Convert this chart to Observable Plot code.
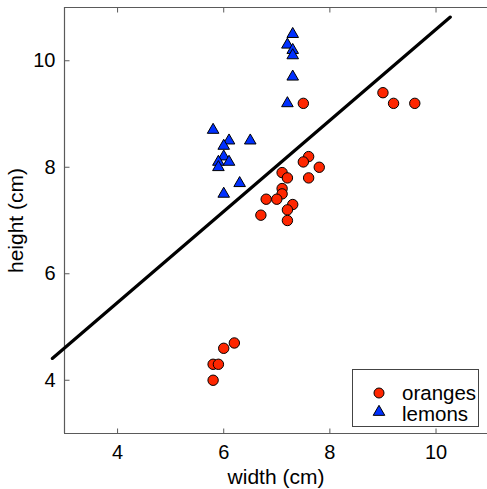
<!DOCTYPE html>
<html>
<head>
<meta charset="utf-8">
<script src="https://cdn.jsdelivr.net/npm/d3@7"></script>
<script src="https://cdn.jsdelivr.net/npm/@observablehq/plot@0.6"></script>
<style>
  html, body { margin: 0; padding: 0; background: #fff; overflow: hidden; }
  #wrap { position: relative; width: 487px; height: 489px; }
  #legend { position: absolute; left: 0; top: 0; pointer-events: none; }
</style>
</head>
<body>
<div id="wrap"></div>
<script>
// ---- data ----
const orangeWidth  = [9.0, 9.2, 9.6, 7.5, 7.6, 7.5, 7.8, 7.1, 7.2, 7.6, 7.1, 7.1, 6.8, 7.0, 7.3, 7.2, 6.7, 7.2, 6.2, 6.0, 5.8, 5.9, 5.8];
const orangeHeight = [9.4, 9.2, 9.2, 9.2, 8.2, 8.1, 8.0, 7.9, 7.8, 7.8, 7.6, 7.5, 7.4, 7.4, 7.3, 7.2, 7.1, 7.0, 4.7, 4.6, 4.3, 4.3, 4.0];
const lemonWidth   = [7.3, 7.2, 7.3, 7.3, 7.3, 7.2, 5.8, 6.1, 6.5, 6.0, 6.0, 5.9, 6.1, 5.9, 6.3, 6.0];
const lemonHeight  = [10.5, 10.3, 10.2, 10.1, 9.7, 9.2, 8.7, 8.5, 8.5, 8.4, 8.2, 8.1, 8.1, 8.0, 7.7, 7.5];
const boundaryWidth  = [2.77, 10.27];
const boundaryHeight = [4.41, 10.82];
const xTicks = [4, 6, 8, 10];
const yTicks = [4, 6, 8, 10];
const xDomain = [3, 10.97];
const yDomain = [3, 11];
const legendLabels = ["oranges", "lemons"];

const oranges = orangeWidth.map((w, i) => ({w, h: orangeHeight[i]}));
const lemons = lemonWidth.map((w, i) => ({w, h: lemonHeight[i]}));
const boundary = boundaryWidth.map((w, i) => ({w, h: boundaryHeight[i]}));

const FONT = "'Liberation Sans', Arial, sans-serif";
const ORANGE = "#ff2600";
const BLUE = "#0030ff";
const AXIS = "#5a5a5a";
const TL = 5; // inward tick length in px
const tickUp = {draw(ctx) { ctx.moveTo(0, 0); ctx.lineTo(0, -TL); }};
const tickDown = {draw(ctx) { ctx.moveTo(0, 0); ctx.lineTo(0, TL); }};
const tickRight = {draw(ctx) { ctx.moveTo(0, 0); ctx.lineTo(TL, 0); }};

const chart = Plot.plot({
  width: 487,
  height: 489,
  marginLeft: 64,
  marginRight: 0,
  marginTop: 7,
  marginBottom: 56,
  style: {fontFamily: FONT, fontSize: "20px", background: "#fff", color: "#000", overflow: "visible"},
  x: {domain: xDomain},
  y: {domain: yDomain},
  marks: [
    Plot.ruleX([xDomain[0]], {stroke: AXIS, strokeWidth: 1.2}),
    Plot.ruleY([yDomain[0]], {stroke: AXIS, strokeWidth: 1.2}),
    Plot.ruleY([yDomain[1]], {stroke: AXIS, strokeWidth: 1.2}),
    Plot.dot(xTicks, {x: d => d, y: yDomain[0], symbol: tickUp, fill: "none", stroke: AXIS, strokeWidth: 1}),
    Plot.dot(xTicks, {x: d => d, y: yDomain[1], symbol: tickDown, fill: "none", stroke: AXIS, strokeWidth: 1}),
    Plot.dot(yTicks, {y: d => d, x: xDomain[0], symbol: tickRight, fill: "none", stroke: AXIS, strokeWidth: 1}),
    Plot.axisX(xTicks, {tickSize: 0, tickPadding: 11, tickFormat: d3.format("d"), label: "width (cm)", labelArrow: "none", labelAnchor: "center", labelOffset: 50, fill: "#000", fontSize: 20}),
    Plot.axisY(yTicks, {tickSize: 0, tickPadding: 9, tickFormat: d3.format("d"), label: "height (cm)", labelArrow: "none", labelAnchor: "center", labelOffset: 56, fill: "#000", fontSize: 20}),
    Plot.line(boundary, {x: "w", y: "h", stroke: "#000", strokeWidth: 3.2, clip: false}),
    Plot.dot(oranges, {x: "w", y: "h", r: 5.2, symbol: "circle", fill: ORANGE, stroke: "#000", strokeWidth: 1}),
    Plot.dot(lemons, {x: "w", y: "h", r: 4.3, symbol: "triangle", fill: BLUE, stroke: "#000", strokeWidth: 1})
  ]
});

const wrap = document.getElementById("wrap");
wrap.appendChild(chart);

// axis label font size a bit larger than tick labels
chart.querySelectorAll("g[aria-label='x-axis label'] text, g[aria-label='y-axis label'] text").forEach(t => t.setAttribute("font-size", "21px"));

// legend overlay
const ns = "http://www.w3.org/2000/svg";
const lg = document.createElementNS(ns, "svg");
lg.setAttribute("id", "legend");
lg.setAttribute("width", 487);
lg.setAttribute("height", 489);
const rect = document.createElementNS(ns, "rect");
rect.setAttribute("x", 352.5); rect.setAttribute("y", 369.5);
rect.setAttribute("width", 126); rect.setAttribute("height", 57);
rect.setAttribute("fill", "#fff"); rect.setAttribute("stroke", "#444"); rect.setAttribute("stroke-width", 1);
lg.appendChild(rect);
const c = document.createElementNS(ns, "circle");
c.setAttribute("cx", 379); c.setAttribute("cy", 393); c.setAttribute("r", 5);
c.setAttribute("fill", ORANGE); c.setAttribute("stroke", "#000");
lg.appendChild(c);
const tri = document.createElementNS(ns, "path");
tri.setAttribute("d", d3.symbol(d3.symbolTriangle, 4.3 * 4.3 * Math.PI)());
tri.setAttribute("transform", "translate(379,412)");
tri.setAttribute("fill", BLUE); tri.setAttribute("stroke", "#000");
lg.appendChild(tri);
legendLabels.forEach((t, i) => {
  const tx = document.createElementNS(ns, "text");
  tx.setAttribute("x", 402);
  tx.setAttribute("y", 400 + i * 21);
  tx.setAttribute("font-family", FONT);
  tx.setAttribute("font-size", "20.5px");
  tx.textContent = t;
  lg.appendChild(tx);
});
wrap.appendChild(lg);
</script>
</body>
</html>
